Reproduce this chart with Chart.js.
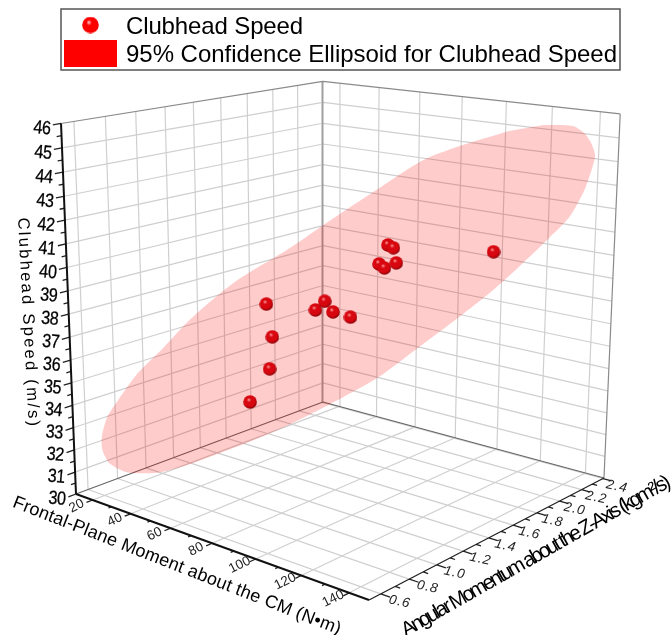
<!DOCTYPE html>
<html><head><meta charset="utf-8">
<script src="https://cdn.jsdelivr.net/npm/chart.js@4"></script>
<style>html,body{margin:0;padding:0;background:#fff}canvas{display:block}</style></head>
<body><canvas id="c" width="672" height="635"></canvas>
<script>
const momentTicks=[20,40,60,80,100,120,140];
const angularTicks=[0.6,0.8,1.0,1.2,1.4,1.6,1.8,2.0,2.2,2.4];
const speedTicks=[30,31,32,33,34,35,36,37,38,39,40,41,42,43,44,45,46];
const ballMoment=[55.8,60.8,61.6,60.2,72.5,75.0,77.0,81.5,88.5,89.8,92.8,90.7,92.0,117.2];
const ballAngular=[1.14,1.21,1.22,1.20,1.37,1.40,1.43,1.49,1.59,1.61,1.65,1.62,1.64,1.99];
const ballSpeed=[33.93,35.38,36.79,38.23,37.92,38.30,37.82,37.58,39.85,39.67,39.88,40.66,40.53,40.26];
const ellMoment=[128.8,136.3,139.1,141.0,142.1,141.7,139.7,136.2,131.3,124.9,117.5,109.0,98.9,88.8,79.6,66.0,56.5,47.2,39.5,31.8,24.2,19.9,18.0,17.9,19.6,22.5,27.7,34.2,41.1,52.0,65.5,74.5,88.4,99.2,109.8,120.4];
const ellAngular=[2.15,2.25,2.29,2.31,2.33,2.32,2.30,2.25,2.18,2.09,1.99,1.87,1.73,1.59,1.47,1.28,1.15,1.02,0.91,0.81,0.70,0.64,0.62,0.62,0.64,0.68,0.75,0.84,0.93,1.09,1.27,1.40,1.59,1.74,1.88,2.03];
const ellSpeed=[45.59,45.53,45.23,44.85,44.30,43.80,42.83,41.69,40.81,39.75,38.61,37.46,36.18,34.90,34.04,32.88,32.20,31.62,31.17,30.85,30.93,31.36,31.96,32.55,33.44,34.18,35.35,36.43,37.62,39.18,40.54,41.57,43.08,44.22,44.86,45.37];
const R={xmin:11,xmax:148,ymin:0.52,ymax:2.41,zmin:30,zmax:46};
const V={A:[76,494],B:[369,600],C:[323,402],E:[604,478],At:[61,123],Ct:[323,80],Et:[620,116]};
const P=(()=>{const {A,B,C,E,At,Ct,Et}=V;
 const dx1=B[0]-E[0],dx2=C[0]-E[0],sx=A[0]-B[0]+E[0]-C[0],dy1=B[1]-E[1],dy2=C[1]-E[1],sy=A[1]-B[1]+E[1]-C[1];
 const den=dx1*dy2-dx2*dy1,g=(sx*dy2-dx2*sy)/den,h=(dx1*sy-sx*dy1)/den;
 const a=B[0]-A[0]+g*B[0],b=C[0]-A[0]+h*C[0],c=A[0],d=B[1]-A[1]+g*B[1],e=C[1]-A[1]+h*C[1],f=A[1];
 const pts=[[At,0,0],[Ct,0,1],[Et,1,1]].map(([T,u,v])=>{const D=g*u+h*v+1;return {X:T[0],Y:T[1],a:T[0]*D-(a*u+b*v+c),b:T[1]*D-(d*u+e*v+f)};});
 const m=k=>pts.reduce((s,o)=>s+o[k],0)/3;
 const mX=m('X'),mY=m('Y'),ma=m('a'),mb=m('b');
 let nu=0,de=0;pts.forEach(o=>{nu+=(o.a-ma)*(o.X-mX)+(o.b-mb)*(o.Y-mY);de+=(o.X-mX)**2+(o.Y-mY)**2;});
 const r=-nu/de,p=ma+r*mX,q=mb+r*mY;
 return {a,b,c,d,e,f,g,h,p,q,r};})();
function proj(x,y,z){const u=(x-R.xmin)/(R.xmax-R.xmin),v=(y-R.ymin)/(R.ymax-R.ymin),w=(z-R.zmin)/(R.zmax-R.zmin);
 const D=P.g*u+P.h*v+1+P.r*w;
 return {x:(P.a*u+P.b*v+P.c+P.p*w)/D,y:(P.d*u+P.e*v+P.f+P.q*w)/D};}
const NAN={x:NaN,y:NaN};
function seg(list){const o=[];list.forEach(s=>{o.push(proj(...s[0]),proj(...s[1]),NAN)});return o;}
const gridSeg=[];
angularTicks.forEach(y=>{gridSeg.push([[R.xmin,y,R.zmin],[R.xmin,y,R.zmax]],[[R.xmin,y,R.zmin],[R.xmax,y,R.zmin]]);});
momentTicks.forEach(x=>{gridSeg.push([[x,R.ymax,R.zmin],[x,R.ymax,R.zmax]],[[x,R.ymin,R.zmin],[x,R.ymax,R.zmin]]);});
speedTicks.slice(1,-1).forEach(z=>{gridSeg.push([[R.xmin,R.ymin,z],[R.xmin,R.ymax,z]],[[R.xmin,R.ymax,z],[R.xmax,R.ymax,z]]);});
const floorEdges=[[[R.xmin,R.ymin,R.zmin],[R.xmin,R.ymax,R.zmin]],[[R.xmin,R.ymax,R.zmin],[R.xmax,R.ymax,R.zmin]]];
const wallEdges=[[[R.xmin,R.ymax,R.zmin],[R.xmin,R.ymax,R.zmax]],[[R.xmax,R.ymax,R.zmin],[R.xmax,R.ymax,R.zmax]],[[R.xmin,R.ymin,R.zmax],[R.xmin,R.ymax,R.zmax]],[[R.xmin,R.ymax,R.zmax],[R.xmax,R.ymax,R.zmax]]];
const axisThick=[[[R.xmin,R.ymin,R.zmin],[R.xmin,R.ymin,R.zmax]],[[R.xmin,R.ymin,R.zmin],[R.xmax,R.ymin,R.zmin]]];
const axisThin=[[[R.xmax,R.ymin,R.zmin],[R.xmax,R.ymax,R.zmin]]];
const tickSeg=[];
momentTicks.forEach(x=>tickSeg.push([[x,R.ymin,R.zmin],[x,R.ymin-0.04,R.zmin]]));
momentTicks.forEach(x=>{if(x+10<R.xmax)tickSeg.push([[x+10,R.ymin,R.zmin],[x+10,R.ymin-0.02,R.zmin]])});
angularTicks.forEach(y=>{tickSeg.push([[R.xmax,y,R.zmin],[R.xmax+3.7,y,R.zmin]]);if(y+0.1<R.ymax)tickSeg.push([[R.xmax,y+0.1,R.zmin],[R.xmax+2,y+0.1,R.zmin]])});
speedTicks.forEach(z=>{tickSeg.push([[R.xmin,R.ymin,z],[R.xmin,R.ymin-0.05,z]]);if(z<46)tickSeg.push([[R.xmin,R.ymin,z+0.5],[R.xmin,R.ymin-0.03,z+0.5]])});
function makeBall(size,hi,body,dark){const c=document.createElement('canvas');c.width=c.height=size;const t=c.getContext('2d');const r=size/2;
 const gr=t.createRadialGradient(r*0.8,r*0.68,0,r*0.92,r*0.85,r*1.18);gr.addColorStop(0,hi);gr.addColorStop(0.28,body);gr.addColorStop(0.68,body);gr.addColorStop(1,dark);
 t.fillStyle=gr;t.beginPath();t.arc(r,r,r-0.2,0,7);t.fill();return c;}
const dataBall=makeBall(14,'#ff9a9a','#d8060f','#7a0006');
const legendBall=makeBall(17,'#ffd8d8','#ff0000','#f00000');
function txt(ctx,s,x,y,o){ctx.save();ctx.translate(x,y);ctx.rotate((o.rot||0)*Math.PI/180);ctx.transform(o.sx||1,0,o.skew||0,o.sy||1,0,0);
 ctx.font=o.font;ctx.fillStyle=o.color||'#000';ctx.textAlign=o.align||'center';ctx.textBaseline=o.base||'middle';
 if(o.width){ctx.letterSpacing='0px';const w=ctx.measureText(s).width;ctx.letterSpacing=((o.width-w)/s.length)+'px';}else if(o.spacing!=null)ctx.letterSpacing=o.spacing+'px';
 ctx.fillText(s,0,0);if(o.stroke){ctx.strokeStyle=ctx.fillStyle;ctx.lineWidth=o.stroke;ctx.strokeText(s,0,0);}ctx.restore();}
const draw={id:'draw',afterDatasetsDraw(ch){const ctx=ch.ctx;
 ctx.save();ctx.strokeStyle='#555';ctx.lineWidth=1.5;ctx.strokeRect(61,9,559,61);
 ctx.drawImage(legendBall,82,16.5);ctx.fillStyle='#ff0000';ctx.fillRect(64,40,53,27);ctx.restore();
 txt(ctx,'Clubhead Speed',126,27,{font:'24px "Liberation Sans"',align:'left',width:177});
 txt(ctx,'95% Confidence Ellipsoid for Clubhead Speed',126,55,{font:'24px "Liberation Sans"',align:'left',width:491});
 speedTicks.forEach(z=>{const p=proj(R.xmin,R.ymin,z);txt(ctx,String(z),p.x-19,p.y+5,{font:'19px "Liberation Sans"',rot:5,sx:0.85,spacing:-0.5,stroke:0.3});});
 momentTicks.forEach(x=>{const p=proj(x,R.ymin,R.zmin);txt(ctx,String(x),p.x-16,p.y+6,{font:'13.5px "Liberation Sans"',rot:-26,color:'#222'});});
 angularTicks.forEach(y=>{const p=proj(R.xmax,y,R.zmin);txt(ctx,y.toFixed(1),p.x+19-5*(y-0.6)/1.8,p.y+8,{font:'italic 13.5px "Liberation Sans"',rot:12,color:'#222',spacing:1});});
 txt(ctx,'Clubhead Speed (m/s)',28,323,{font:'16.5px "Liberation Sans"',rot:87,width:211});
 txt(ctx,'Frontal-Plane Moment about the CM (N\u2022m)',177,566,{font:'18px "Liberation Sans"',rot:21.4,width:351});
 txt(ctx,'Angular Momentum about the Z-Axis (kgm\u00b2/s)',535,557,{font:'20.5px "Liberation Sans"',rot:-29.6,width:304});
}};
new Chart(document.getElementById('c'),{type:'scatter',
 data:{datasets:[
  {label:'grid',data:seg(gridSeg),showLine:true,borderColor:'#cfcfcf',borderWidth:1.2,pointRadius:0,order:6,spanGaps:false},
  {label:'floorEdges',data:seg(floorEdges),showLine:true,borderColor:'#666',borderWidth:1.2,pointRadius:0,order:5},
  {label:'wallEdges',data:seg(wallEdges),showLine:true,borderColor:'#8a8a8a',borderWidth:1.2,pointRadius:0,order:5},
  {label:'axisThick',data:seg(axisThick),showLine:true,borderColor:'#111',borderWidth:2,pointRadius:0,order:4},
  {label:'axisThin',data:seg(axisThin).concat(seg(tickSeg)),showLine:true,borderColor:'#222',borderWidth:1.3,pointRadius:0,order:4},
  {label:'95% Confidence Ellipsoid for Clubhead Speed',data:ellMoment.map((x,i)=>proj(x,ellAngular[i],ellSpeed[i])),showLine:true,fill:'shape',backgroundColor:'rgba(255,0,0,0.2)',borderWidth:0,pointRadius:0,tension:0.25,order:3},
  {label:'Clubhead Speed',data:ballMoment.map((x,i)=>proj(x,ballAngular[i],ballSpeed[i])),pointStyle:dataBall,pointRadius:7,order:1}
 ]},
 options:{responsive:false,animation:false,events:[],layout:{padding:0,autoPadding:false},
  plugins:{legend:{display:false},tooltip:{enabled:false}},
  scales:{x:{type:'linear',display:false,min:0,max:672},y:{type:'linear',display:false,min:0,max:635,reverse:true}}},
 plugins:[draw]});
</script></body></html>
